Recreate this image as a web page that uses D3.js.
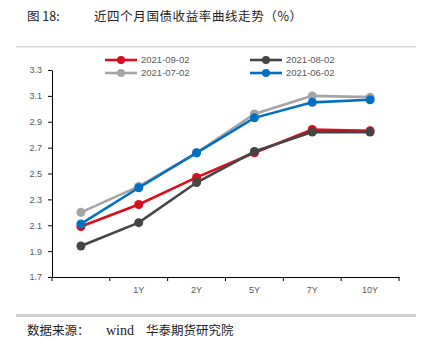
<!DOCTYPE html>
<html>
<head>
<meta charset="utf-8">
<script src="https://cdn.jsdelivr.net/npm/d3@7"></script>
<style>
  body { margin: 0; background: #fff; }
  svg { display: block; }
</style>
</head>
<body>
<div id="chart"></div>
<script>
// tenors (first category has no label in the original)
var tenors = ["", "1Y", "2Y", "5Y", "7Y", "10Y"];
var yTicks = [1.7, 1.9, 2.1, 2.3, 2.5, 2.7, 2.9, 3.1, 3.3];

var seriesNames = ["2021-09-02", "2021-08-02", "2021-07-02", "2021-06-02"];
var sep02 = [2.09, 2.26, 2.47, 2.66, 2.84, 2.83];
var aug02 = [1.94, 2.12, 2.43, 2.67, 2.82, 2.82];
var jul02 = [2.20, 2.40, 2.66, 2.96, 3.10, 3.09];
var jun02 = [2.11, 2.39, 2.66, 2.93, 3.05, 3.07];
var colors = ["#DA0D1D", "#454545", "#A5A5A5", "#0070C0"];

var series = [sep02, aug02, jul02, jun02];

const W = 431, H = 351;
const margin = {top: 70, right: 32, bottom: 74, left: 52},
    width = W - margin.left - margin.right,
    height = H - margin.top - margin.bottom;

const root = d3.select("#chart")
  .append("svg")
    .attr("width", W)
    .attr("height", H);

// title
root.append("text")
  .attr("x", 27).attr("y", 21)
  .style("font-family", "'Noto Sans CJK SC'")
  .style("font-size", "12.5px")
  .style("fill", "#222")
  .text("图 18:");
root.append("text")
  .attr("x", 94).attr("y", 21)
  .style("font-family", "'Noto Sans CJK SC'")
  .style("font-size", "12.5px")
  .style("letter-spacing", "0.6px")
  .style("fill", "#222")
  .text("近四个月国债收益率曲线走势（%）");

// rules
root.append("rect").attr("x", 16).attr("y", 46).attr("width", 400).attr("height", 1.5).attr("fill", "#d4d4d4");
root.append("rect").attr("x", 16).attr("y", 314).attr("width", 400).attr("height", 3).attr("fill", "#cfcfcf");

// source
root.append("text")
  .attr("x", 27).attr("y", 335)
  .style("font-family", "'Noto Sans CJK SC'")
  .style("font-size", "12.5px")
  .style("fill", "#222")
  .text("数据来源：");
root.append("text")
  .attr("x", 106).attr("y", 335)
  .style("font-family", "'Liberation Serif'")
  .style("font-size", "14px")
  .style("fill", "#222")
  .text("wind");
root.append("text")
  .attr("x", 146).attr("y", 335)
  .style("font-family", "'Noto Sans CJK SC'")
  .style("font-size", "12.5px")
  .style("fill", "#222")
  .text("华泰期货研究院");

const svg = root.append("g")
  .attr("transform", `translate(${margin.left},${margin.top})`);

const x = d3.scaleBand()
  .domain(tenors.map(function(d, i) { return i; }))
  .range([0, width]);

const y = d3.scaleLinear()
  .domain([1.7, 3.3])
  .range([height, 0]);

// Y axis
const yAxis = svg.append("g")
  .call(d3.axisLeft(y).tickValues(yTicks).tickFormat(d3.format(".1f")).tickSize(4).tickSizeOuter(0));
yAxis.select(".domain").attr("stroke", "#000");
yAxis.selectAll(".tick line").attr("stroke", "#000");
yAxis.selectAll(".tick text")
  .attr("x", -10)
  .style("font-family", "'Liberation Sans'")
  .style("font-size", "9px")
  .style("fill", "#595959");

// X axis: ticks at band boundaries, labels centred in bands
const xAxis = svg.append("g")
  .attr("transform", `translate(0,${height})`)
  .call(d3.axisBottom(x).tickFormat(function(i) { return tenors[i]; }).tickSize(0).tickSizeOuter(0));
xAxis.select(".domain").attr("stroke", "#000");
xAxis.selectAll(".tick text")
  .attr("y", 10)
  .style("font-family", "'Liberation Sans'")
  .style("font-size", "9px")
  .style("fill", "#595959");
const bounds = tenors.map(function(d, i) { return x(i); }).concat([width]);
svg.append("g").selectAll("line")
  .data(bounds)
  .join("line")
    .attr("x1", function(d) { return d; })
    .attr("x2", function(d) { return d; })
    .attr("y1", height)
    .attr("y2", height + 4)
    .attr("stroke", "#000");

// lines
const line = d3.line()
  .x(function(d, i) { return x(i) + x.bandwidth() / 2; })
  .y(function(d) { return y(d); });

series.forEach(function(vals, k) {
  svg.append("path")
    .datum(vals)
    .attr("fill", "none")
    .attr("stroke", colors[k])
    .attr("stroke-width", 2.6)
    .attr("d", line);
  svg.append("g").selectAll("circle")
    .data(vals)
    .join("circle")
      .attr("cx", function(d, i) { return x(i) + x.bandwidth() / 2; })
      .attr("cy", function(d) { return y(d); })
      .attr("r", 4.5)
      .attr("fill", colors[k]);
});

// legend
const legPos = [[105, 60], [250, 60], [105, 73], [250, 73]];
seriesNames.forEach(function(name, k) {
  const g = root.append("g").attr("transform", `translate(${legPos[k][0]},${legPos[k][1]})`);
  g.append("line").attr("x1", 0).attr("x2", 32).attr("y1", 0).attr("y2", 0)
    .attr("stroke", colors[k]).attr("stroke-width", 2.6);
  g.append("circle").attr("cx", 16).attr("cy", 0).attr("r", 4).attr("fill", colors[k]);
  g.append("text")
    .attr("x", 36).attr("y", 0).attr("dy", "0.35em")
    .style("font-family", "'Liberation Sans'")
    .style("font-size", "9.5px")
    .style("fill", "#595959")
    .text(name);
});
</script>
</body>
</html>
